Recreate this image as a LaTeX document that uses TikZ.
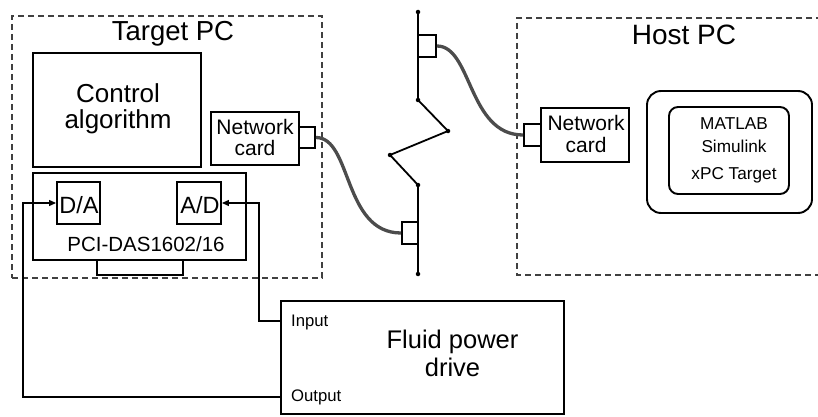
\documentclass[tikz,border=0pt]{standalone}
\usepackage{fontspec}
\setmainfont{Liberation Sans}
\usetikzlibrary{arrows.meta}
\newcommand{\fsz}[1]{\fontsize{#1}{#1}\selectfont}
\begin{document}
\begin{tikzpicture}[x=1pt,y=-1pt,
  box/.style={draw, line width=1.9pt, inner sep=0pt, rectangle},
  zone/.style={draw=black!75, line width=1.4pt, dash pattern=on 6pt off 4pt},
  cable/.style={draw=black!70, line width=3.3pt},
  sig/.style={draw, line width=1.2pt, -{Triangle[length=7pt,width=6pt]}},
  dot/.style={circle, fill, inner sep=0pt, minimum size=4.5pt},
  lbl/.style={anchor=base, inner sep=0pt},
]
\useasboundingbox (0,0) rectangle (818,417);

% zones
\node[zone, minimum width=310pt, minimum height=262pt, inner sep=0pt] (target) at (167,147) {};
\draw[zone] (822,18) -- (517,18) -- (517,275) -- (822,275);
\node[lbl, font=\fsz{27.5}] (ttitle) at (173,41) {Target PC};
\node[lbl, font=\fsz{28}] (htitle) at (684,45) {Host PC};

% target PC
\node[box, minimum width=168pt, minimum height=114pt] (ctrl) at (117,110) {};
\node[lbl, font=\fsz{26}] (ctrl1) at (118,102.3) {Control};
\node[lbl, font=\fsz{26}] (ctrl2) at (118,128.3) {algorithm};

\node[box, minimum width=88pt, minimum height=53pt] (tnc) at (255,138.5) {};
\node[lbl, font=\fsz{21}] (tnc1) at (255,134) {Network};
\node[lbl, font=\fsz{21}] (tnc2) at (255,155.7) {card};
\node[box, minimum width=16pt, minimum height=21pt] (tport) at (307,137.5) {};

\node[box, minimum width=213pt, minimum height=87pt] (pci) at (139.5,216.5) {};
\node[box, minimum width=86pt, minimum height=15pt] (tab) at (140,267.5) {};
\node[box, minimum width=43pt, minimum height=42pt] (da) at (78.5,203) {};
\node[box, minimum width=44pt, minimum height=42pt] (ad) at (199,203) {};
\node[lbl, font=\fsz{23.5}] (datxt) at (79,213) {D/A};
\node[lbl, font=\fsz{23.5}] (adtxt) at (200,213) {A/D};
\node[lbl, font=\fsz{20.5}] (pcitxt) at (146,251.7) {PCI-DAS1602/16};

% host PC
\node[box, minimum width=88pt, minimum height=54pt] (hnc) at (585,135) {};
\node[lbl, font=\fsz{21}] (hnc1) at (586,130) {Network};
\node[lbl, font=\fsz{21}] (hnc2) at (586,152) {card};
\node[box, minimum width=17pt, minimum height=22pt] (hport) at (532.5,135) {};

\node[box, rounded corners=14pt, minimum width=165pt, minimum height=122pt] (outer) at (729.5,152) {};
\node[box, rounded corners=9pt, minimum width=120pt, minimum height=87pt] (inner) at (729,150.5) {};
\node[lbl, font=\fsz{17.2}] (m1) at (734,129) {MATLAB};
\node[lbl, font=\fsz{17.2}] (m2) at (734,152.3) {Simulink};
\node[lbl, font=\fsz{17.2}] (m3) at (734,179.3) {xPC Target};

% network bus
\node[dot] (b1) at (418,12) {};
\node[dot] (b2) at (418,100) {};
\node[dot] (b3) at (448,131) {};
\node[dot] (b4) at (390,155) {};
\node[dot] (b5) at (418,185) {};
\node[dot] (b6) at (418,274) {};
\draw[line width=1.8pt, line join=round] (b1.center) -- (b2.center) -- (b3.center) -- (b4.center) -- (b5.center) -- (b6.center);
\node[box, fill=white, minimum width=18pt, minimum height=22pt] (uport) at (427,46) {};
\node[box, fill=white, minimum width=16pt, minimum height=22pt] (lport) at (410,233) {};

\draw[cable] (tport.east) .. controls (352,137.5) and (343,233) .. (lport.west);
\draw[cable] (uport.east) .. controls (472,46) and (468,135) .. (hport.west);

% fluid power drive
\node[box, minimum width=283pt, minimum height=113pt] (fluid) at (422.5,357.5) {};
\node[lbl, font=\fsz{25.5}] (f1) at (452.5,348.3) {Fluid power};
\node[lbl, font=\fsz{25.5}] (f2) at (452.5,376.7) {drive};
\node[lbl, anchor=base west, font=\fsz{16.7}] (inlbl) at (291,326.7) {Input};
\node[lbl, anchor=base west, font=\fsz{16.7}] (outlbl) at (291,401.7) {Output};
\coordinate (fin) at (281,321);
\coordinate (fout) at (281,397);

\draw[sig] (fout) -| ([xshift=-33pt]da.west) -- (da.west);
\draw[sig] (fin) -| ([xshift=37pt]ad.east) -- (ad.east);
\end{tikzpicture}
\end{document}
